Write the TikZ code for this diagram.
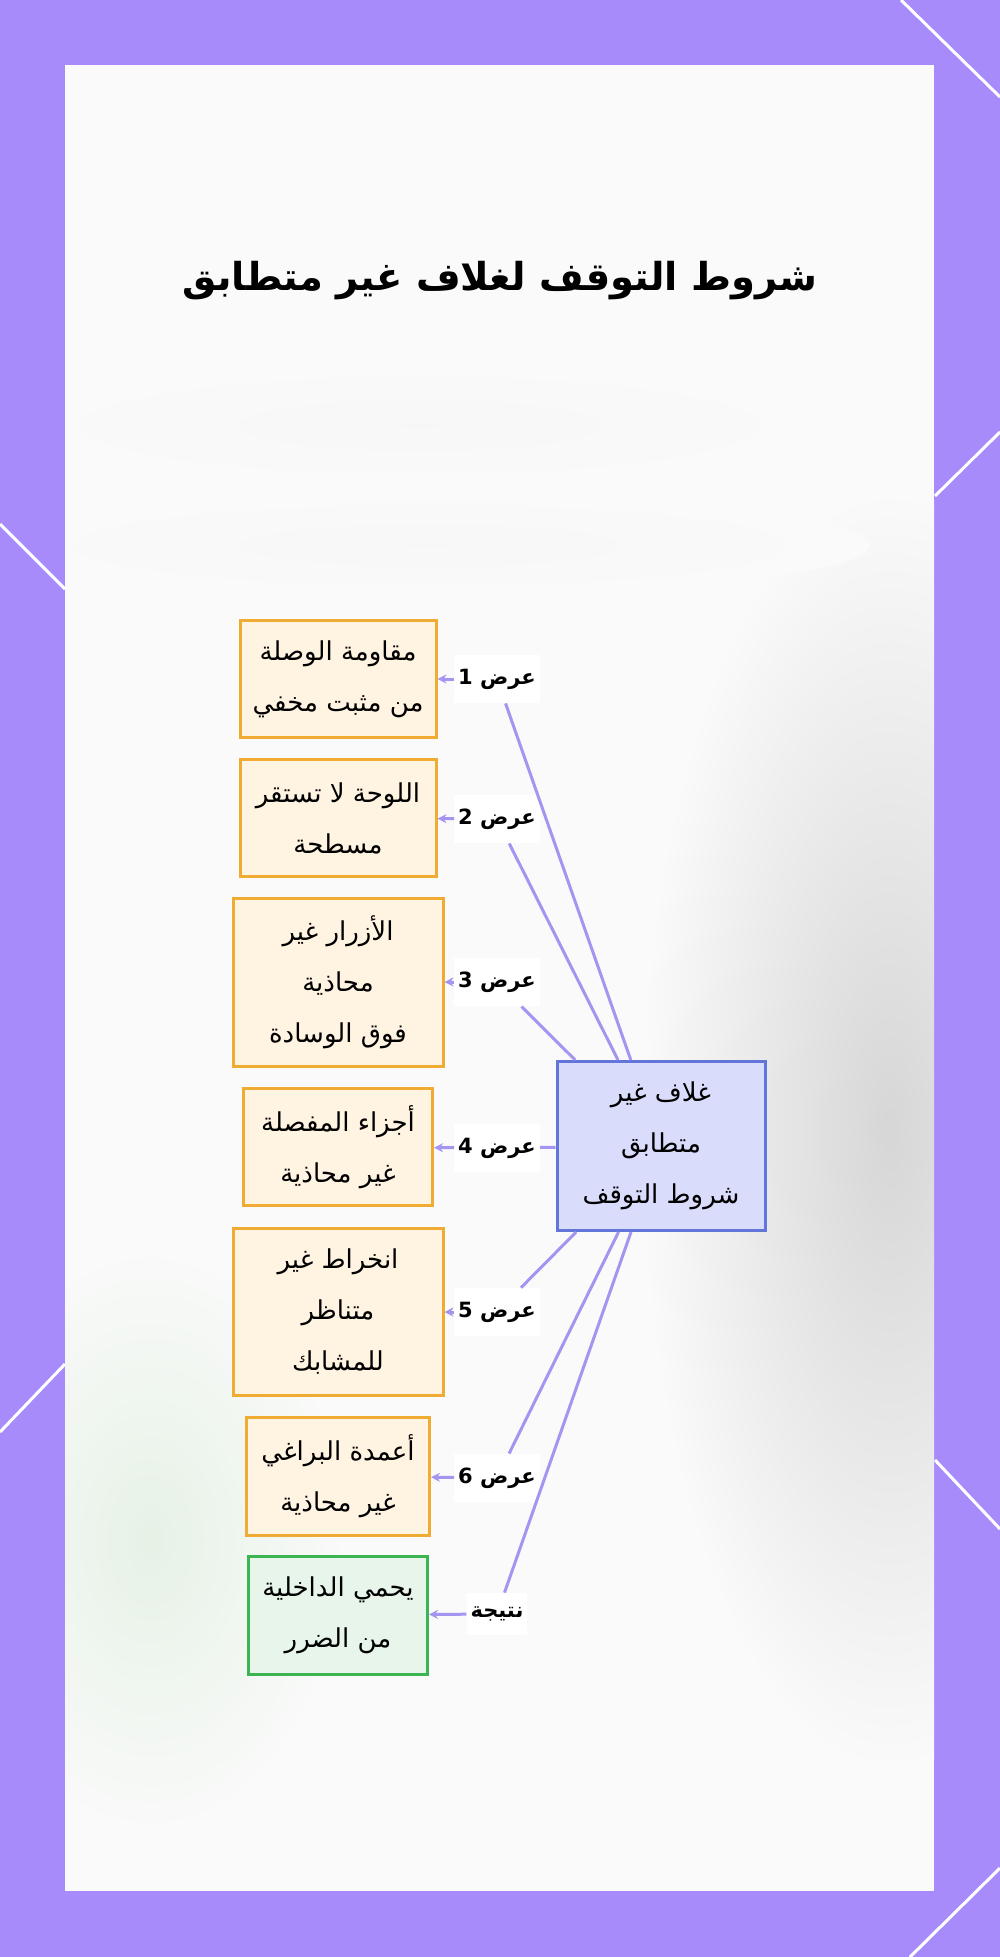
\documentclass[tikz,border=0pt]{standalone}
\usepackage{fontspec}
\newfontfamily\arabicfont[Script=Arabic]{DejaVu Sans}
\TeXXeTstate=1
\usetikzlibrary{arrows.meta,positioning}
\definecolor{framebg}{HTML}{A78BFA}
\definecolor{panelbg}{HTML}{FAFAFA}
\definecolor{linkcol}{HTML}{A594F0}
\definecolor{factfill}{HTML}{FFF3E2}
\definecolor{factdraw}{HTML}{F0AC32}
\definecolor{resfill}{HTML}{E7F5EA}
\definecolor{resdraw}{HTML}{3DB452}
\definecolor{hubfill}{HTML}{DADCFB}
\definecolor{hubdraw}{HTML}{6275D8}
\newcommand{\artxt}[1]{{\arabicfont\beginR #1\endR}}
\tikzstyle{factbox}=[draw=factdraw,fill=factfill,line width=3pt,align=center,inner sep=0pt,font=\fontsize{26}{51}\selectfont]
\tikzstyle{resultbox}=[factbox,draw=resdraw,fill=resfill]
\tikzstyle{hubbox}=[factbox,draw=hubdraw,fill=hubfill]
\tikzstyle{edgelabel}=[fill=white,inner xsep=4pt,inner ysep=14pt,font=\fontsize{21}{21}\selectfont\bfseries]
\tikzstyle{link}=[draw=linkcol,line width=3pt]

\begin{document}
\begin{tikzpicture}[x=1pt,y=-1pt]
\useasboundingbox (0,0) rectangle (1000,1957);

%frame
    \fill[framebg] (0,0) rectangle (1000,1957);
    \foreach \a/\b in {{(901,0)/(1000,97)}, {(935,496)/(1000,432)}, {(0,524)/(65,589)}, {(0,1432)/(65,1364)}, {(935,1460)/(1000,1529)}, {(910,1957)/(1000,1868)}}
        \draw[white,line width=3pt] \a -- \b;
    \fill[panelbg] (65,65) rectangle (934,1891);
    \begin{scope}
    \clip (65,65) rectangle (934,1891);
    \shade[inner color=gray!32, outer color=panelbg] (890,1130) ellipse (250 and 640);
    \shade[inner color=gray!6, outer color=panelbg] (420,425) ellipse (420 and 60);
    \shade[inner color=gray!6, outer color=panelbg] (430,545) ellipse (440 and 50);
    \shade[inner color=green!30!gray!15, outer color=panelbg] (150,1540) ellipse (200 and 300);
    \end{scope}

%title
    \node[font=\fontsize{38.5}{38.5}\selectfont\bfseries] (title) at (500,281) {\artxt{شروط التوقف لغلاف غير متطابق}};

%boxes
    \node[hubbox,minimum width=208pt,minimum height=169pt] (hub) at (661,1146) {\artxt{غلاف غير}\\\artxt{متطابق}\\\artxt{شروط التوقف}};

    \foreach \name/\sty/\ypos/\boxw/\boxh/\txt in {
        b1/factbox/679/196/117/{\artxt{مقاومة الوصلة}\\\artxt{من مثبت مخفي}},
        b2/factbox/818/196/117/{\artxt{اللوحة لا تستقر}\\\artxt{مسطحة}},
        b3/factbox/982/210/168/{\artxt{الأزرار غير}\\\artxt{محاذية}\\\artxt{فوق الوسادة}},
        b4/factbox/1147/189/117/{\artxt{أجزاء المفصلة}\\\artxt{غير محاذية}},
        b5/factbox/1312/210/167/{\artxt{انخراط غير}\\\artxt{متناظر}\\\artxt{للمشابك}},
        b6/factbox/1476/183/118/{\artxt{أعمدة البراغي}\\\artxt{غير محاذية}},
        b7/resultbox/1615/179/118/{\artxt{يحمي الداخلية}\\\artxt{من الضرر}}}
        \node[\sty,minimum width=\boxw pt,minimum height=\boxh pt] (\name) at (338,\ypos) {\txt};

    \foreach \name/\ypos/\txt in {l1/679/{عرض 1}, l2/819/{عرض 2}, l3/982/{عرض 3}, l4/1148/{عرض 4}, l5/1312/{عرض 5}, l6/1478/{عرض 6}, l7/1614/{نتيجة}}
        \node[edgelabel] (\name) at (497,\ypos) {\artxt{\txt}};

%links
    \foreach \i in {1,...,7} {
        \draw[link] (hub) -- (l\i);
        \draw[link,-{Stealth[length=9pt,width=9pt]}] (l\i) -- (b\i);
    }

\end{tikzpicture}
\end{document}
